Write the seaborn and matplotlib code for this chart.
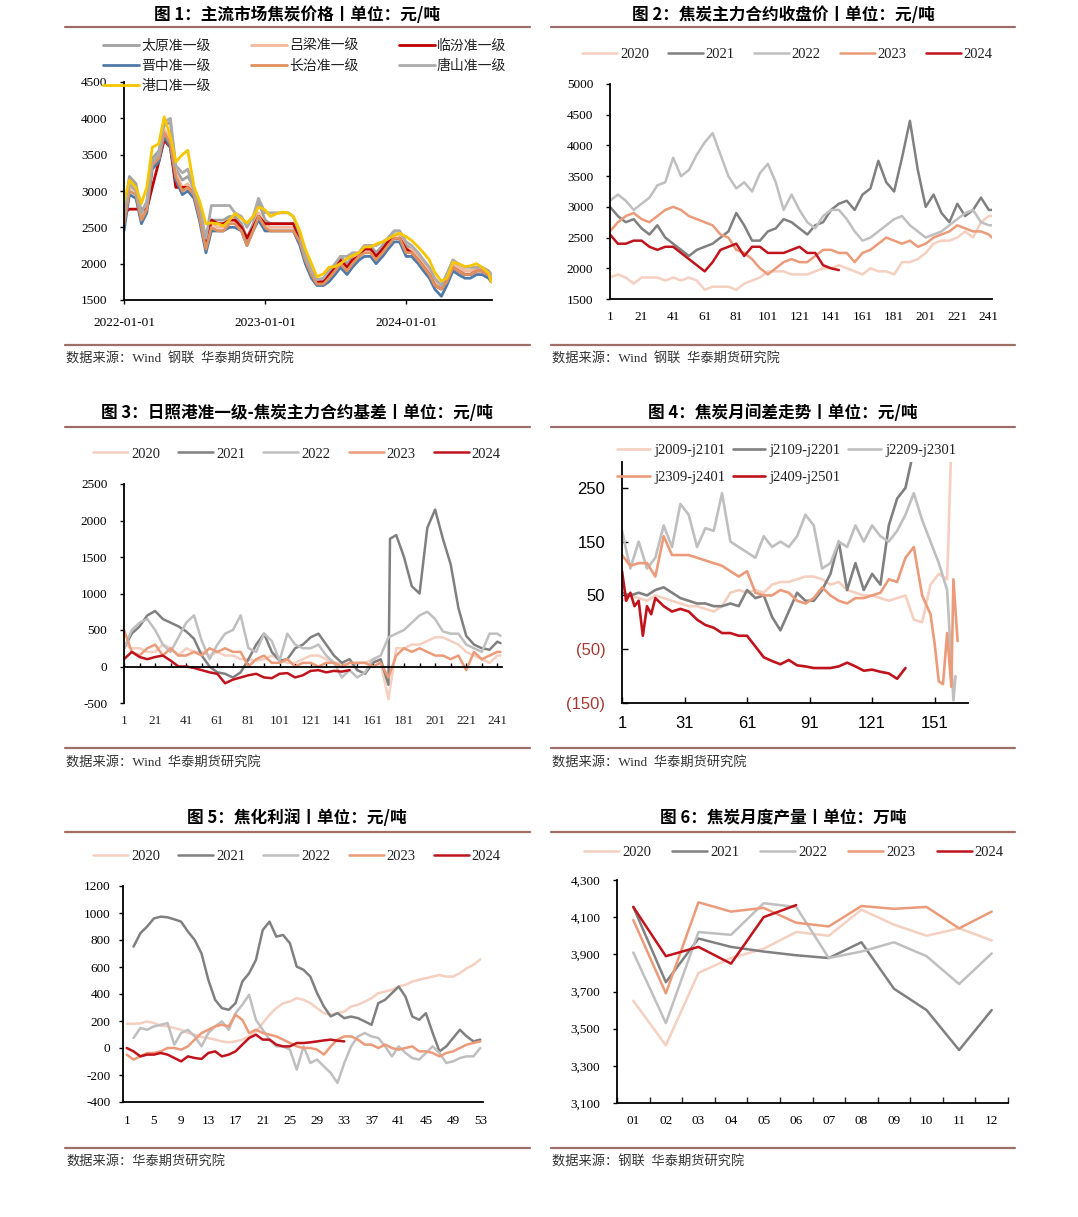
import matplotlib
matplotlib.use('Agg')
import numpy as np
import pandas as pd
import matplotlib.pyplot as plt
import matplotlib.dates as mdates
from matplotlib.lines import Line2D
from matplotlib.ticker import FuncFormatter
import seaborn as sns

# ---------------- data ----------------
# fig 1: mainstream coke prices, semi-monthly readings
P1_DATES = list(pd.date_range('2022-01-01', '2024-08-01', freq='SMS')) + [pd.Timestamp('2024-08-08')]
TAIYUAN = [2650, 3200, 3100, 2700, 2850, 3450, 3550, 3900,
           3950, 3300, 3150, 3200, 3050, 2750, 2300, 2600,
           2600, 2600, 2650, 2650, 2550, 2350, 2550, 2850,
           2600, 2550, 2550, 2550, 2550, 2550, 2400, 2100,
           1900, 1750, 1750, 1850, 1950, 2100, 2000, 2100,
           2150, 2250, 2250, 2150, 2250, 2350, 2450, 2450,
           2250, 2200, 2100, 2000, 1900, 1750, 1700, 1850,
           2050, 1950, 1900, 1900, 1950, 1950, 1900, 1850]
LVLIANG = [2600, 3050, 3000, 2650, 2800, 3400, 3500, 3850,
           3700, 3250, 3050, 3100, 3000, 2700, 2250, 2550,
           2500, 2500, 2600, 2600, 2500, 2300, 2500, 2700,
           2550, 2500, 2500, 2500, 2500, 2500, 2350, 2100,
           1900, 1750, 1750, 1850, 1950, 2050, 1950, 2050,
           2150, 2200, 2200, 2100, 2200, 2300, 2400, 2400,
           2200, 2200, 2100, 2000, 1900, 1750, 1700, 1800,
           2000, 1950, 1900, 1900, 1950, 1950, 1900, 1800]
LINFEN = [2700, 2750, 2750, 2750, 2750, 3050, 3400, 3700,
          3600, 3050, 3050, 3050, 2950, 2650, 2250, 2600,
          2550, 2550, 2600, 2600, 2500, 2350, 2500, 2650,
          2550, 2550, 2550, 2550, 2550, 2550, 2350, 2100,
          1850, 1750, 1750, 1850, 1950, 2050, 1950, 2050,
          2100, 2200, 2200, 2100, 2200, 2300, 2350, 2350,
          2200, 2150, 2050, 1950, 1850, 1700, 1650, 1750,
          1950, 1900, 1850, 1850, 1900, 1900, 1850, 1750]
JINZHONG = [2450, 2950, 2900, 2550, 2700, 3300, 3400, 3750,
            3600, 3150, 2950, 3000, 2900, 2600, 2150, 2450,
            2450, 2450, 2500, 2500, 2450, 2250, 2450, 2600,
            2450, 2450, 2450, 2450, 2450, 2450, 2250, 2000,
            1800, 1700, 1700, 1750, 1850, 1950, 1850, 1950,
            2050, 2100, 2100, 2000, 2100, 2200, 2300, 2300,
            2100, 2100, 2000, 1900, 1800, 1650, 1550, 1700,
            1900, 1850, 1800, 1800, 1850, 1850, 1800, 1750]
CHANGZHI = [2550, 3000, 2950, 2600, 2750, 3350, 3450, 3800,
            3650, 3200, 3000, 3050, 2950, 2650, 2200, 2500,
            2450, 2450, 2550, 2550, 2450, 2250, 2450, 2650,
            2500, 2450, 2450, 2450, 2450, 2450, 2300, 2050,
            1850, 1720, 1720, 1800, 1900, 2000, 1900, 2000,
            2100, 2150, 2150, 2050, 2150, 2250, 2350, 2350,
            2150, 2150, 2050, 1950, 1850, 1700, 1650, 1750,
            1950, 1900, 1850, 1850, 1900, 1900, 1850, 1750]
TANGSHAN = [2700, 3100, 3000, 2700, 2850, 3400, 3500, 3950,
            4000, 3350, 3250, 3300, 3000, 2800, 2350, 2800,
            2800, 2800, 2800, 2700, 2650, 2500, 2650, 2900,
            2700, 2700, 2700, 2700, 2700, 2650, 2400, 2100,
            1900, 1780, 1800, 1900, 2000, 2100, 2100, 2150,
            2150, 2250, 2250, 2250, 2300, 2350, 2450, 2450,
            2300, 2250, 2150, 2050, 1950, 1800, 1700, 1850,
            2050, 2000, 1950, 1950, 1950, 1950, 1900, 1850]
PORT = [2850, 3150, 3050, 2830, 3050, 3600, 3650, 4020,
        3750, 3400, 3500, 3560, 3060, 2870, 2550, 2560,
        2550, 2520, 2600, 2690, 2620, 2560, 2650, 2780,
        2740, 2650, 2690, 2710, 2700, 2650, 2450, 2200,
        2000, 1820, 1860, 1950, 1960, 2000, 2070, 2110,
        2150, 2230, 2230, 2270, 2300, 2340, 2390, 2420,
        2370, 2320, 2230, 2150, 2050, 1880, 1760, 1800,
        2020, 2000, 1960, 1970, 2000, 1950, 1870, 1750]
CITY_NAMES = ['太原准一级', '吕梁准一级', '临汾准一级', '晋中准一级',
              '长治准一级', '唐山准一级', '港口准一级']

# fig 2: main contract close, every 5th trading day
P2_DAYS = list(range(1, 242, 5)) + [243]
P2_DAYS_2024 = list(range(1, 147, 5))
CLOSE_2020 = [1850, 1900, 1850, 1750, 1850, 1850, 1850, 1800, 1850, 1800,
              1850, 1800, 1650, 1700, 1700, 1700, 1650, 1750, 1800, 1850,
              1950, 1950, 1950, 1900, 1900, 1900, 1950, 2000, 2000, 2050,
              2000, 1950, 1900, 2000, 1950, 1950, 1900, 2100, 2100, 2150,
              2250, 2400, 2450, 2450, 2500, 2600, 2500, 2750, 2850, 2850]
CLOSE_2021 = [3000, 2850, 2750, 2800, 2650, 2550, 2700, 2500, 2400, 2300,
              2200, 2300, 2350, 2400, 2500, 2600, 2900, 2700, 2450, 2450,
              2600, 2650, 2800, 2750, 2650, 2550, 2700, 2750, 2950, 3050,
              3100, 2950, 3200, 3300, 3750, 3400, 3250, 3800, 4400, 3600,
              3000, 3200, 2900, 2750, 3050, 2850, 2950, 3150, 2950, 2950]
CLOSE_2022 = [3100, 3200, 3100, 2950, 3050, 3150, 3350, 3400, 3800, 3500,
              3600, 3850, 4050, 4200, 3850, 3500, 3300, 3400, 3250, 3550,
              3700, 3400, 2950, 3200, 2950, 2750, 2650, 2850, 2950, 2950,
              2800, 2600, 2450, 2500, 2600, 2700, 2800, 2850, 2700, 2600,
              2500, 2550, 2600, 2700, 2800, 2900, 2950, 2750, 2700, 2700]
CLOSE_2023 = [2600, 2750, 2850, 2900, 2800, 2750, 2850, 2950, 3000, 2950,
              2850, 2800, 2750, 2700, 2550, 2500, 2300, 2250, 2150, 2000,
              1900, 2000, 2100, 2150, 2100, 2100, 2200, 2300, 2300, 2250,
              2250, 2100, 2250, 2300, 2400, 2500, 2450, 2400, 2450, 2350,
              2400, 2500, 2550, 2600, 2700, 2650, 2600, 2600, 2550, 2500]
CLOSE_2024 = [2550, 2400, 2400, 2450, 2450, 2350, 2300, 2350, 2350, 2250,
              2150, 2050, 1950, 2100, 2300, 2350, 2400, 2200, 2350, 2350,
              2250, 2250, 2250, 2300, 2350, 2250, 2250, 2050, 2000, 1970]

# fig 3: Rizhao port basis
P3_DAYS = list(range(1, 242, 5)) + [243]
P3_DAYS_2021 = P3_DAYS[:35] + [172] + P3_DAYS[35:]
P3_DAYS_2024 = list(range(1, 147, 5))
BASIS_2020 = [300, 250, 250, 200, 200, 300, 250, 150, 250, 200,
              200, 150, 200, 150, 150, 100, 100, 80, 100, 150,
              100, 50, 50, 100, 150, 150, 100, 50, 50, 0,
              50, 50, 100, 50, -450, 250, 250, 300, 300, 350,
              400, 400, 350, 300, 200, 150, 100, 50, 150, 150]
BASIS_2021 = [250, 450, 550, 700, 760, 650, 600, 550, 480, 380,
              150, 0, -80, -100, -150, -80, 100, 300, 450, 200,
              80, 100, 250, 300, 400, 450, 300, 150, 50, 100,
              -50, -100, 50, 100, -250, 1750,
              1800, 1500, 1100, 1000, 1900, 2150, 1750, 1400, 800, 420,
              300, 250, 230, 340, 320]
BASIS_2022 = [250, 500, 600, 650, 500, 300, 200, 400, 600, 700,
              350, 100, 300, 450, 500, 700, 250, 200, 450, 350,
              80, 450, 300, 250, 250, 300, 150, 50, -150, -50,
              -150, -80, 100, 150, 400, 450, 500, 600, 700, 750,
              650, 480, 450, 450, 300, 250, 200, 450, 450, 420]
BASIS_2023 = [500, 200, 150, 250, 300, 150, 250, 150, 150, 200,
              150, 250, 200, 250, 200, 200, 0, 100, 150, 50,
              50, 100, 0, 50, 50, 0, 50, 50, 0, 50,
              50, 50, 0, 50, -150, 150, 250, 200, 250, 200,
              150, 150, 100, 150, -50, 200, 100, 150, 200, 200]
BASIS_2024 = [100, 200, 130, 100, 130, 150, 80, 0, 0, -20,
              -50, -80, -100, -230, -180, -150, -120, -100, -150, -160,
              -100, -90, -150, -120, -60, -50, -80, -60, -70, -50]

# fig 4: calendar spreads
SPREAD_NAMES = ['j2009-j2101', 'j2109-j2201', 'j2209-j2301', 'j2309-j2401', 'j2409-j2501']
D_J2009 = list(range(1, 158, 4)) + [159]
J2009 = [40, 50, 45, 40, 50, 45, 40, 35, 30, 30,
         25, 20, 30, 55, 60, 55, 60, 55, 70, 75,
         75, 80, 85, 85, 80, 70, 75, 60, 55, 50,
         50, 45, 40, 45, 50, 5, 0, 70, 90, 80,
         330]
D_J2109 = list(range(1, 142, 4))
J2109 = [55, 50, 55, 50, 60, 65, 55, 45, 40, 35,
         35, 30, 30, 35, 30, 60, 45, 50, 10, -15,
         20, 55, 40, 40, 60, 90, 150, 60, 110, 60,
         90, 70, 180, 230, 250, 320]
D_J2209 = list(range(1, 158, 4)) + [160, 161]
J2209 = [170, 100, 150, 100, 120, 180, 140, 220, 200, 140,
         175, 170, 240, 150, 140, 130, 120, 160, 140, 150,
         140, 160, 200, 180, 100, 110, 150, 140, 180, 150,
         180, 160, 150, 170, 200, 240, 190, 150, 110, 60,
         -145, -100]
D_J2309 = list(range(1, 150, 4)) + [151, 153, 155, 157, 159, 160, 162]
J2309 = [125, 105, 110, 110, 85, 160, 125, 125, 125, 120,
         115, 110, 105, 95, 85, 95, 55, 50, 50, 60,
         55, 40, 35, 45, 65, 50, 40, 35, 45, 45,
         50, 55, 80, 75, 120, 140, 50, 15,
         -40, -110, -115, -20, -120, 80, -35]
D_J2409 = [1, 3, 5, 7, 9, 11, 13, 15, 17] + list(range(21, 138, 4))
J2409 = [95, 40, 55, 30, 40, -25, 30, 15, 45,
         30, 20, 25, 20, 5, -5, -10, -20, -20, -25,
         -25, -45, -65, -72, -78, -70, -80, -82, -85, -85,
         -85, -82, -75, -82, -90, -88, -92, -95, -105, -85]
P4_YTICKS = [250, 150, 50, -50, -150]
P4_YLABELS = ['250', '150', '50', '(50)', '(150)']

# fig 5: coking profit, weekly
WEEKS = list(range(1, 54))
PROFIT_2020 = [180, 180, 182, 197, 185, 165, 160, 148, 135, 111,
               99, 81, 74, 62, 49, 42, 49, 62, 86, 123,
               185, 246, 295, 332, 344, 369, 357, 332, 295, 258,
               246, 258, 270, 307, 320, 344, 369, 406, 418, 431,
               455, 468, 492, 505, 517, 529, 541, 529, 529, 554,
               591, 616, 657]
PROFIT_2021 = [751, 850, 900, 960, 973, 968, 953, 936, 862,
               800, 700, 505, 357, 295, 283, 332, 492, 554, 652,
               874, 936, 825, 837, 776, 603, 579, 529, 406, 307,
               234, 258, 221, 233, 221, 197, 172, 332, 357, 406,
               455, 381, 233, 209, 258, 111, -25, 12, 74, 135,
               86, 49, 62]
PROFIT_2022 = [74, 148, 135, 160, 172, 185, 25, 111, 135,
               86, 12, 111, 160, 197, 135, 258, 320, 394, 209,
               135, 62, 12, 12, -12, -160, 12, -111, -86, -136,
               -185, -259, -111, 12, 86, 111, 86, 74, 12, -62,
               12, -37, -74, -86, -37, 12, -37, -111, -99, -74,
               -62, -62, 0]
PROFIT_2023 = [-49, -86, -62, -37, -37, -25, 0, 0, -12, 12,
               62, 111, 135, 160, 172, 160, 246, 209, 111, 135,
               111, 99, 86, 62, 37, 12, 0, 0, -12, -49,
               12, 62, 86, 86, 62, 25, 25, 0, 25, 0,
               -12, 0, 12, -25, -25, -37, -62, -37, -25, 0,
               25, 37, 49]
PROFIT_2024 = [0, -25, -62, -49, -49, -37, -49, -74, -99, -62,
               -74, -81, -37, -25, -62, -49, -25, 25, 74, 99,
               62, 62, 25, 12, 12, 37, 37, 42, 49, 56,
               62, 54, 49]

# fig 6: monthly coke output
MONTHS = ['01', '02', '03', '04', '05', '06', '07', '08', '09', '10', '11', '12']
OUTPUT_2020 = [3650, 3410, 3800, 3880, 3930, 4020, 4000, 4140, 4060, 4000, 4040, 3975]
OUTPUT_2021 = [4155, 3750, 3985, 3940, 3915, 3895, 3880, 3965, 3715, 3600, 3385, 3600]
OUTPUT_2022 = [3910, 3530, 4020, 4005, 4175, 4155, 3880, 3915, 3965, 3890, 3740, 3905]
OUTPUT_2023 = [4085, 3690, 4180, 4130, 4150, 4070, 4050, 4160, 4145, 4155, 4040, 4130]
OUTPUT_2024 = [4155, 3890, 3940, 3850, 4100, 4165]

YEARS = ['2020', '2021', '2022', '2023', '2024']

# ---------------- style ----------------
sns.set_theme(style='white')
plt.rcParams['font.family'] = ['Liberation Serif', 'Noto Sans CJK SC']
plt.rcParams['axes.unicode_minus'] = False
CJK = ['Noto Sans CJK SC', 'DejaVu Sans']
SERIF = ['Liberation Serif', 'Noto Sans CJK SC']

YEAR_COLORS = ['#F5CFC0', '#808080', '#BFBFBF', '#EB9B79', '#C0131C']
CITY_COLORS = ['#A0A0A0', '#F4B89C', '#C00000', '#4F7AA8', '#E0915E', '#ABABAB', '#F7C600']
RULE = '#9E6E68'
TXT = '#222222'

W, H = 1078, 1217
fig = plt.figure(figsize=(W / 100, H / 100), dpi=100)


def fx(px):
    return px / W


def fy(py):
    return 1 - py / H


def make_ax(left, top, right, bottom):
    ax = fig.add_axes([fx(left), fy(bottom), (right - left) / W, (bottom - top) / H])
    for s in ['top', 'right']:
        ax.spines[s].set_visible(False)
    for s in ['left', 'bottom']:
        ax.spines[s].set_color('black')
        ax.spines[s].set_linewidth(1.3)
    ax.tick_params(bottom=True, left=True, labelsize=9.5, colors='black',
                   length=3, width=1, pad=9)
    return ax


def legend_at(ax, order, left_px, cy_px, ncol, size, family, hl, cs, ls=0.3, htp=0.2):
    h, l = ax.get_legend_handles_labels()
    idx = [l.index(o) for o in order]
    leg = ax.legend([h[i] for i in idx], [l[i] for i in idx], loc='center left',
                    bbox_to_anchor=(fx(left_px), fy(cy_px)), bbox_transform=fig.transFigure,
                    ncol=ncol, frameon=False, borderpad=0, borderaxespad=0,
                    handlelength=hl, handletextpad=htp, columnspacing=cs,
                    labelspacing=ls, prop={'family': family, 'size': size})
    for t in leg.get_texts():
        t.set_color(TXT)


def header(cx, y_title, x0, x1, y_rule, text):
    fig.text(fx(cx), fy(y_title), text, ha='center', va='center', fontsize=12,
             fontweight='black', family=CJK, color='black')
    fig.add_artist(Line2D([fx(x0), fx(x1)], [fy(y_rule), fy(y_rule)], color=RULE,
                          lw=1.6, transform=fig.transFigure))


def footer(x0, x1, y_rule, y_text, text):
    fig.add_artist(Line2D([fx(x0), fx(x1)], [fy(y_rule), fy(y_rule)], color=RULE,
                          lw=1.6, transform=fig.transFigure))
    fig.text(fx(x0 + 1), fy(y_text), text, ha='left', va='center', fontsize=9.5,
             family=SERIF, color='#333333')


# ---------------- fig 1 ----------------
ax1 = make_ax(124, 82, 492, 300)
city_vals = [TAIYUAN, LVLIANG, LINFEN, JINZHONG, CHANGZHI, TANGSHAN, PORT]
for name, vals, col in zip(CITY_NAMES, city_vals, CITY_COLORS):
    sns.lineplot(x=P1_DATES, y=vals, ax=ax1, color=col, linewidth=2.0, label=name)
ax1.set_ylim(1500, 4500)
ax1.set_yticks(range(1500, 4501, 500))
ax1.set_xlim(pd.Timestamp('2022-01-01'), pd.Timestamp('2024-08-10'))
ax1.xaxis.set_major_locator(mdates.YearLocator())
ax1.xaxis.set_major_formatter(mdates.DateFormatter('%Y-%m-%d'))
ax1.xaxis.set_minor_locator(mdates.MonthLocator())
ax1.tick_params(axis='x', which='both', length=3)
legend_at(ax1, ['太原准一级', '晋中准一级', '港口准一级', '吕梁准一级', '长治准一级',
                '临汾准一级', '唐山准一级'],
          103, 66, 3, 10, CJK, 2.6, 2.9, ls=0.42, htp=0.15)

# ---------------- fig 2 ----------------
ax2 = make_ax(610, 84, 992, 299)
close_vals = [CLOSE_2020, CLOSE_2021, CLOSE_2022, CLOSE_2023, CLOSE_2024]
for yr, vals, col in zip(YEARS, close_vals, YEAR_COLORS):
    days = P2_DAYS_2024 if yr == '2024' else P2_DAYS
    sns.lineplot(x=days, y=vals, ax=ax2, color=col, linewidth=1.8, label=yr)
ax2.set_ylim(1500, 5000)
ax2.set_yticks(range(1500, 5001, 500))
ax2.set_xlim(1, 243)
ax2.set_xticks(range(1, 242, 20))
ax2.tick_params(axis='x', length=0)
legend_at(ax2, YEARS, 582, 54, 5, 10.5, SERIF, 2.4, 1.3)

# ---------------- fig 3 ----------------
ax3 = make_ax(124, 484, 502, 703)
basis_vals = [BASIS_2020, BASIS_2021, BASIS_2022, BASIS_2023, BASIS_2024]
for yr, vals, col in zip(YEARS, basis_vals, YEAR_COLORS):
    days = {'2021': P3_DAYS_2021, '2024': P3_DAYS_2024}.get(yr, P3_DAYS)
    sns.lineplot(x=days, y=vals, ax=ax3, color=col, linewidth=1.8, label=yr)
ax3.set_ylim(-500, 2500)
ax3.set_yticks(range(-500, 2501, 500))
ax3.set_xlim(1, 244)
ax3.spines['bottom'].set_position(('data', 0))
ax3.set_xticks(range(1, 242, 10))
ax3.tick_params(axis='x', direction='in', length=3, labelbottom=False)
sec3 = ax3.secondary_xaxis('bottom')
sec3.set_xticks(range(1, 242, 20))
sec3.tick_params(length=0, labelsize=9.5, pad=9)
sec3.spines['bottom'].set_visible(False)
legend_at(ax3, YEARS, 93, 454, 5, 10.5, SERIF, 2.4, 1.25)

# ---------------- fig 4 ----------------
ax4 = make_ax(622, 462, 968, 703)
spread_days = [D_J2009, D_J2109, D_J2209, D_J2309, D_J2409]
spread_vals = [J2009, J2109, J2209, J2309, J2409]
for name, days, vals, col in zip(SPREAD_NAMES, spread_days, spread_vals, YEAR_COLORS):
    sns.lineplot(x=days, y=vals, ax=ax4, color=col, linewidth=1.9, label=name)
ax4.set_ylim(-150, 298)
ax4.set_xlim(1, 167)
ax4.set_xticks(range(1, 152, 30))
ax4.set_xticklabels([str(v) for v in range(1, 152, 30)], fontfamily='Liberation Sans',
                    fontsize=12)
ax4.set_yticks(P4_YTICKS)
ax4.set_yticklabels(P4_YLABELS, fontfamily='Liberation Sans', fontsize=12)
for lab in ax4.get_yticklabels():
    if lab.get_text().startswith('('):
        lab.set_color('#A63A32')
ax4.tick_params(axis='both', direction='in', length=4, pad=12)
ax4.tick_params(axis='x', pad=9)
legend_at(ax4, ['j2009-j2101', 'j2309-j2401', 'j2109-j2201', 'j2409-j2501', 'j2209-j2301'],
          617, 464, 3, 10.5, SERIF, 2.25, 0.5, ls=0.95, htp=0.3)

# ---------------- fig 5 ----------------
ax5 = make_ax(123, 886, 483, 1102)
profit_vals = [PROFIT_2020, PROFIT_2021, PROFIT_2022, PROFIT_2023, PROFIT_2024]
for yr, vals, col in zip(YEARS, profit_vals, YEAR_COLORS):
    n = len(vals)
    weeks = WEEKS[-n:] if yr in ('2021', '2022') else WEEKS[:n]
    sns.lineplot(x=weeks, y=vals, ax=ax5, color=col, linewidth=1.8, label=yr)
ax5.set_ylim(-400, 1200)
ax5.set_yticks(range(-400, 1201, 200))
ax5.set_xlim(0.45, 53.4)
ax5.set_xticks(range(1, 54, 4))
ax5.tick_params(axis='x', length=0)
ax5.tick_params(axis='y', pad=6)
legend_at(ax5, YEARS, 93, 856, 5, 10.5, SERIF, 2.4, 1.25)

# ---------------- fig 6 ----------------
ax6 = make_ax(617, 880, 1008, 1103)
output_vals = [OUTPUT_2020, OUTPUT_2021, OUTPUT_2022, OUTPUT_2023, OUTPUT_2024]
month_pos = list(range(1, 13))
for yr, vals, col in zip(YEARS, output_vals, YEAR_COLORS):
    sns.lineplot(x=month_pos[:len(vals)], y=vals, ax=ax6, color=col, linewidth=1.8, label=yr)
ax6.set_ylim(3100, 4300)
ax6.set_yticks(range(3100, 4301, 200))
ax6.yaxis.set_major_formatter(FuncFormatter(lambda v, p: f'{int(v):,}'))
ax6.set_xlim(0.5, 12.5)
ax6.set_xticks(month_pos)
ax6.set_xticklabels(MONTHS)
ax6.set_xticks(np.arange(0.5, 12.6, 1), minor=True)
ax6.tick_params(axis='x', which='major', length=0)
ax6.tick_params(axis='x', which='minor', bottom=True, direction='in', length=4, width=1)
legend_at(ax6, YEARS, 584, 852, 5, 10.5, SERIF, 2.4, 1.45)

for ax in [ax1, ax2, ax3, ax4, ax5, ax6]:
    ax.set_xlabel('')
    ax.set_ylabel('')

# ---------------- titles, rules, sources ----------------
header(297, 15, 65, 530, 27, '图 1：主流市场焦炭价格丨单位：元/吨')
header(783, 15, 551, 1015, 27, '图 2：焦炭主力合约收盘价丨单位：元/吨')
header(297, 413, 65, 530, 427, '图 3：日照港准一级-焦炭主力合约基差丨单位：元/吨')
header(783, 413, 551, 1015, 427, '图 4：焦炭月间差走势丨单位：元/吨')
header(297, 818, 65, 530, 832, '图 5：焦化利润丨单位：元/吨')
header(783, 818, 551, 1015, 832, '图 6：焦炭月度产量丨单位：万吨')

footer(65, 530, 345, 359, '数据来源：Wind  钢联  华泰期货研究院')
footer(551, 1015, 345, 359, '数据来源：Wind  钢联  华泰期货研究院')
footer(65, 530, 748, 763, '数据来源：Wind  华泰期货研究院')
footer(551, 1015, 748, 763, '数据来源：Wind  华泰期货研究院')
footer(65, 530, 1148, 1162, '数据来源：华泰期货研究院')
footer(551, 1015, 1148, 1162, '数据来源：钢联  华泰期货研究院')

fig.savefig('out.png', dpi=100)
